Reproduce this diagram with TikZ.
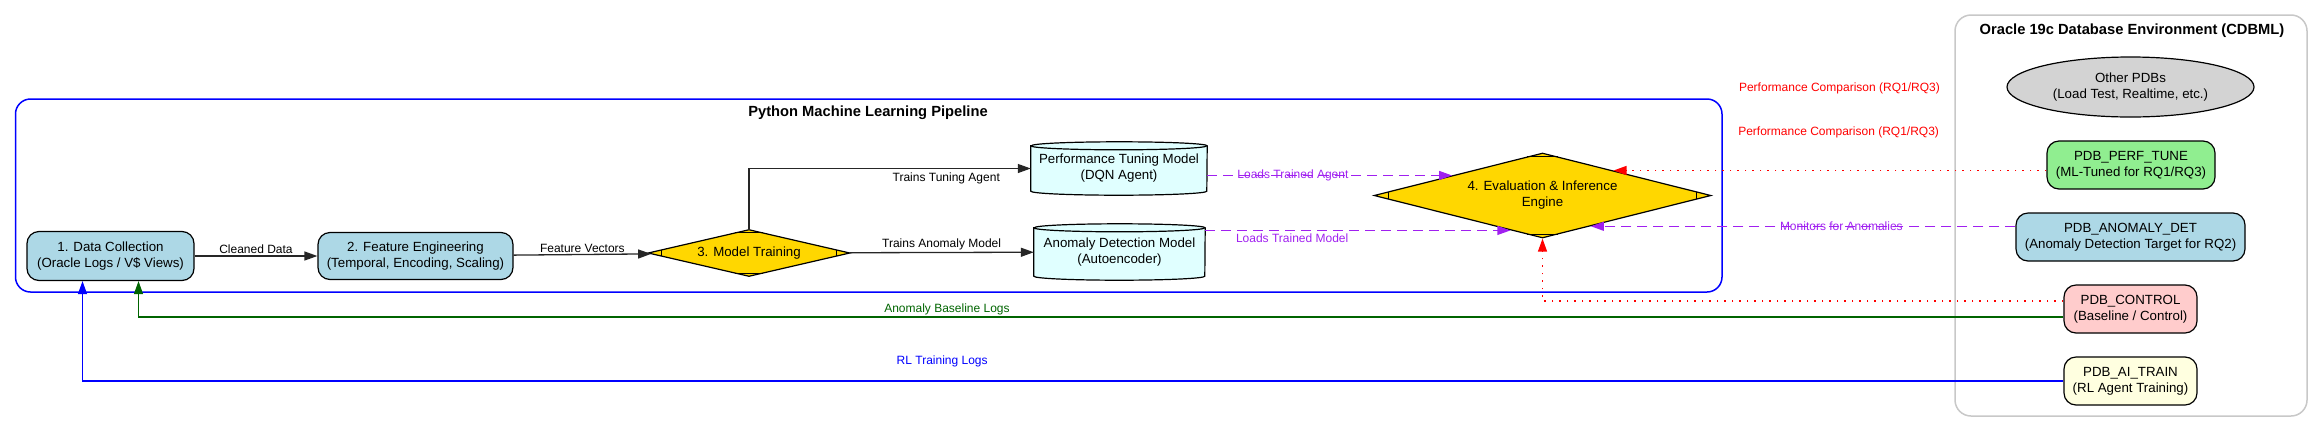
\documentclass[tikz,border=0pt]{standalone}
\usepackage{fontspec}
\setmainfont{Liberation Sans}
\usetikzlibrary{shapes.geometric, arrows.meta, calc, backgrounds}

\definecolor{boxblue}{HTML}{ADD8E6}
\definecolor{cyanlight}{HTML}{E0FFFF}
\definecolor{gold}{HTML}{FFD700}
\definecolor{pdbgreen}{HTML}{90EE90}
\definecolor{pdbpink}{HTML}{FFCCCC}
\definecolor{pdbyellow}{HTML}{FFFFE0}
\definecolor{pdbgray}{HTML}{D3D3D3}
\definecolor{mlpurple}{HTML}{A020F0}
\definecolor{okgreen}{HTML}{006400}
\definecolor{envgray}{HTML}{C8C8C8}

\begin{document}
\begin{tikzpicture}[x=1pt, y=-1pt,
  every node/.style={font=\fontsize{13.3}{16}\selectfont, align=center, inner sep=0pt},
  stage/.style={draw, line width=1.2pt, rounded corners=12pt},
  gate/.style={draw, line width=1.2pt, diamond, fill=gold},
  store/.style={rectangle},
  title/.style={font=\fontsize{14.7}{17}\selectfont\bfseries},
  lbl/.style={font=\fontsize{12}{14}\selectfont, inner sep=1.5pt},
  flow/.style={line width=1.3pt, draw=black!85, -{Triangle[length=13pt,width=9pt]}},
  load/.style={line width=1.3pt, color=mlpurple, dash pattern=on 10pt off 6pt, -{Triangle[length=13pt,width=9pt]}},
  comp/.style={line width=1.3pt, color=red, dash pattern=on 1.5pt off 6pt, -{Triangle[length=13pt,width=9pt]}},
  feed/.style={line width=1.2pt, -{Triangle[length=13pt,width=9pt]}}]
\useasboundingbox (0,0) rectangle (2313,432);
%\draw [lightgray](0,0) grid[step=100] (2313,432);

% clusters
\draw [blue, line width=1.5pt, rounded corners=15pt](15.5,99) rectangle (1722,292);
\draw [envgray, line width=1.5pt, rounded corners=16pt](1955,15) rectangle (2307,416);
\node [title] (pytitle) at (868,113){Python Machine Learning Pipeline};
\node [title] (dbtitle) at (2132,31){Oracle 19c Database Environment (CDBML)};

% pipeline
\node [stage, fill=boxblue, minimum width=167pt, minimum height=49pt] (dc) at (110.5,256){1. Data Collection\\(Oracle Logs / V\$ Views)};
\node [stage, fill=boxblue, minimum width=195pt, minimum height=47pt] (fe) at (415.5,256){2. Feature Engineering\\(Temporal, Encoding, Scaling)};
\node [gate, aspect=4.3, minimum width=202pt, minimum height=47pt] (mt) at (749,253){3. Model Training};
\node [store, minimum width=176pt, minimum height=45pt] (ptm) at (1119,168.5){Performance Tuning Model\\(DQN Agent)};
\node [store, minimum width=171pt, minimum height=48pt] (adm) at (1119.5,252){Anomaly Detection Model\\(Autoencoder)};
\node [gate, aspect=3.96, minimum width=337pt, minimum height=85pt] (ev) at (1542.5,195.5){4. Evaluation \& Inference\\Engine};

\begin{scope}[on background layer]
\foreach \s/\r in {ptm/88, adm/85.5}{
  \draw [line width=1.2pt, fill=cyanlight](\s.north west) -- (\s.south west) arc[start angle=180, end angle=360, x radius=\r pt, y radius=4pt] -- (\s.north east) arc[start angle=0, end angle=180, x radius=\r pt, y radius=4pt] -- cycle;
  \draw [line width=1.2pt](\s.north west) arc[start angle=180, end angle=360, x radius=\r pt, y radius=4pt];
}
\end{scope}

\foreach \d/\t in {mt/0.14, ev/0.09}{
  \draw [line width=1.2pt]($(\d.west)!\t!(\d.north)$) -- ($(\d.west)!\t!(\d.south)$);
  \draw [line width=1.2pt]($(\d.east)!\t!(\d.north)$) -- ($(\d.east)!\t!(\d.south)$);
  \draw [line width=1.2pt]($(\d.north)!\t!(\d.west)$) -- ($(\d.north)!\t!(\d.east)$);
  \draw [line width=1.2pt]($(\d.south)!\t!(\d.west)$) -- ($(\d.south)!\t!(\d.east)$);
}

% database
\node [ellipse, draw, line width=1.2pt, fill=pdbgray, minimum width=247pt, minimum height=60pt] (op) at (2130.5,87){Other PDBs\\(Load Test, Realtime, etc.)};
\node [stage, fill=pdbgreen, minimum width=168pt, minimum height=48pt] (pt) at (2131,165){PDB\_PERF\_TUNE\\(ML-Tuned for RQ1/RQ3)};
\node [stage, fill=boxblue, minimum width=229pt, minimum height=48pt] (ad) at (2130.5,237){PDB\_ANOMALY\_DET\\(Anomaly Detection Target for RQ2)};
\node [stage, fill=pdbpink, minimum width=133pt, minimum height=48pt] (ct) at (2130.5,309){PDB\_CONTROL\\(Baseline / Control)};
\node [stage, fill=pdbyellow, minimum width=133pt, minimum height=48pt] (ai) at (2130.5,381){PDB\_AI\_TRAIN\\(RL Agent Training)};

\coordinate (ev-a) at ($(ev.west)!0.465!(ev.north)$);
\coordinate (ev-b) at ($(ev.west)!0.81!(ev.south)$);
\coordinate (ev-c) at ($(ev.north)!0.42!(ev.east)$);
\coordinate (ev-d) at ($(ev.east)!0.714!(ev.south)$);

\draw [flow](dc) -- node[lbl, above]{Cleaned Data} (fe);
\draw [flow](fe) -- node[lbl, above]{Feature Vectors} (mt);
\draw [flow](mt.north) |- node[lbl, below, pos=0.85, inner sep=4pt]{Trains Tuning Agent} (ptm.west);
\draw [flow](mt) -- node[lbl, above]{Trains Anomaly Model} (adm);

\draw [load](ptm.east |- ev-a) -- node[lbl, pos=0.35]{Loads Trained Agent} (ev-a);
\draw [load](adm.east |- ev-b) -- node[lbl, pos=0.285, below, inner sep=3pt]{Loads Trained Model} (ev-b);
\draw [comp](pt.west |- ev-c) -- node[lbl, pos=0.48, yshift=38pt]{Performance Comparison (RQ1/RQ3)} (ev-c);
\draw [load](ad.west |- ev-d) -- node[lbl, pos=0.41]{Monitors for Anomalies} (ev-d);
\draw [comp]($(ct.west)+(0,-8)$) -| node[lbl, pos=0.215, yshift=213pt]{Performance Comparison (RQ1/RQ3)} (ev.south);

\draw [feed, color=okgreen]($(ct.west)+(0,8)$) -| node[lbl, pos=0.29, above]{Anomaly Baseline Logs} ($(dc.south)+(28,0)$);
\draw [feed, color=blue](ai.west) -| node[lbl, pos=0.283, yshift=20pt]{RL Training Logs} ($(dc.south)+(-28,0)$);
\end{tikzpicture}
\end{document}
